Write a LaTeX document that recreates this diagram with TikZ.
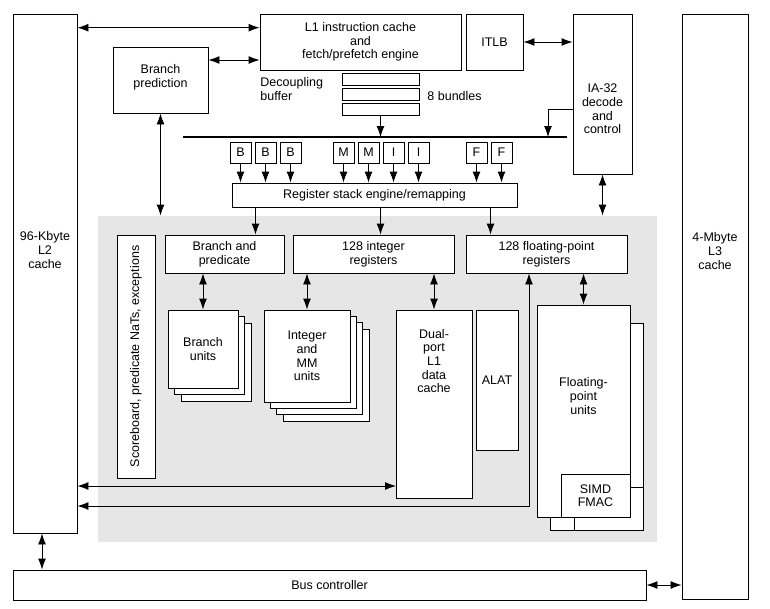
\documentclass[tikz,border=0pt]{standalone}
\usepackage{fontspec}
\setmainfont{Liberation Sans}
\usepackage{tikz}
\usetikzlibrary{arrows.meta}
\definecolor{coregray}{RGB}{230,230,230}

\begin{document}
\begin{tikzpicture}[x=1pt,y=-1pt,line width=0.9pt,
	font=\fontsize{12.5}{13.6}\selectfont,
	>={Latex[length=11pt,width=8pt]},
	box/.style={draw,fill=white,inner sep=0pt,align=center},
	slot/.style={box,minimum width=21pt,minimum height=21pt},
	txt/.style={align=center,inner sep=0pt}]
			\useasboundingbox (0,0) rectangle (770,608);
			\node[fill=coregray,inner sep=0pt,minimum width=559pt,minimum height=326pt](core)at(377.5,379){};
			% caches and front end
			\node[box,minimum width=64pt,minimum height=519pt](l2)at(45,273.5){};
			\node[txt](l2t)at(45,250){96-Kbyte\\L2\\cache};
			\node[box,minimum width=66pt,minimum height=585pt](l3)at(715,306.5){};
			\node[txt](l3t)at(715,251){4-Mbyte\\L3\\cache};
			\node[box,minimum width=201pt,minimum height=56pt](l1)at(360.5,42){L1 instruction cache\\and\\fetch/prefetch engine};
			\node[box,minimum width=57pt,minimum height=56pt](itlb)at(494.5,42){ITLB};
			\node[box,minimum width=59pt,minimum height=160pt](ia32)at(602.5,94){};
			\node[txt](ia32t)at(602.5,109){IA-32\\decode\\and\\control};
			\node[box,minimum width=95pt,minimum height=66pt](bpr)at(160.5,80){};
			\node[txt](bprt)at(160.5,77){Branch\\prediction};
			\node[txt,align=left,anchor=west](dbt)at(260,89){Decoupling\\buffer};
			\foreach \y/\n in {79/1,94/2,109/3}
				\node[box,minimum width=77pt,minimum height=12pt](buf\n)at(380.5,\y){};
			\node[txt,anchor=west](bund)at(427,96){8 bundles};
			\coordinate(busL)at(183,137);
			\coordinate(busR)at(567,137);
			\coordinate(busdrop)at(548,137);
			\draw[line width=2.4pt](busL)--(busR);
			\draw[->](buf3.south)--(buf3.south|-busL);
			\coordinate(iaout)at([yshift=-15pt]ia32.west);
			\draw[->](iaout)-|(busdrop);
			\coordinate(l1a)at([yshift=14.3pt]l1.west);
			\coordinate(l1b)at([yshift=-18pt]l1.west);
			\draw[<->](l1a-|l2.east)--(l1a);
			\draw[<->](l1b-|bpr.east)--(l1b);
			\draw[<->](itlb.east)--(itlb.east-|ia32.west);
			% issue slots
			\foreach \x/\l/\n in {230/B/1,255/B/2,280/B/3,333/M/4,358/M/5,383/I/6,408/I/7,466/F/8,491/F/9}
				\node[slot](s\n)at(\x+10.5,152.5){\l};
			\node[box,minimum width=285pt,minimum height=24pt](rse)at(374.5,195){Register stack engine/remapping};
			\foreach \n in {1,...,9}
				\draw[->](s\n.south)--(s\n.south|-rse.north);
			\draw[<->](bpr.south)--(bpr.south|-core.north);
			\draw[<->](ia32.south)--(ia32.south|-core.north);
			% register files
			\node[box,rotate=90,minimum width=243pt,minimum height=38pt](sb)at(136,356.5){Scoreboard, predicate NaTs, exceptions};
			\node[box,minimum width=119pt,minimum height=38pt](bp)at(224.5,254){Branch and\\predicate};
			\node[box,minimum width=161pt,minimum height=38pt](ireg)at(373.5,254){128 integer\\registers};
			\node[box,minimum width=161pt,minimum height=38pt](freg)at(546.5,254){128 floating-point\\registers};
			\foreach \x/\n in {255.5/bp,380.5/ireg,490.5/freg}
				\draw[->](rse.south-|\x,0)--(\n.north-|\x,0);
			% execution units
			\foreach \d/\n in {13/3,6.5/2}
				\node[box,minimum width=70pt,minimum height=78pt](bu\n)at(203+\d,349+\d){};
			\node[box,minimum width=70pt,minimum height=78pt](bu1)at(203,349){Branch\\units};
			\foreach \d/\n in {19/4,12.7/3,6.3/2}
				\node[box,minimum width=86pt,minimum height=92pt](iu\n)at(307+\d,356+\d){};
			\node[box,minimum width=86pt,minimum height=92pt](iu1)at(307,356){Integer\\and\\MM\\units};
			\node[box,minimum width=76pt,minimum height=188pt](dc)at(434,404){};
			\node[txt](dct)at(434,361){Dual-\\port\\L1\\data\\cache};
			\node[box,minimum width=42pt,minimum height=140pt](alat)at(497,380){ALAT};
			\node[box,minimum width=93pt,minimum height=207pt](fpu2)at(596.5,426.5){};
			\node[box,minimum width=69pt,minimum height=43pt](simd2)at(608.5,508.5){};
			\node[box,minimum width=93pt,minimum height=212pt](fpu1)at(583.5,411){};
			\node[txt](fput)at(583.5,396){Floating-\\point\\units};
			\node[box,minimum width=69pt,minimum height=43pt](simd1)at(595.5,495.5){SIMD\\FMAC};
			\draw[<->](bu1.north)--(bu1.north|-bp.south);
			\draw[<->](iu1.north)--(iu1.north|-ireg.south);
			\draw[<->](dc.north)--(dc.north|-ireg.south);
			\draw[<->](fpu1.north)--(fpu1.north|-freg.south);
			\coordinate(dcin)at(396,486);
			\coordinate(fpret)at(529,506);
			\draw[<->](l2.east|-dcin)--(dcin);
			\draw[<->](freg.south-|fpret)|-(l2.east|-fpret);
			% bus controller
			\node[box,minimum width=633pt,minimum height=30pt](bus)at(329.5,585){Bus controller};
			\coordinate(l2bot)at([xshift=-3pt]l2.south);
			\draw[<->](l2bot)--(l2bot|-bus.north);
			\draw[<->](bus.east)--(bus.east-|l3.west);
		\end{tikzpicture}
\end{document}
